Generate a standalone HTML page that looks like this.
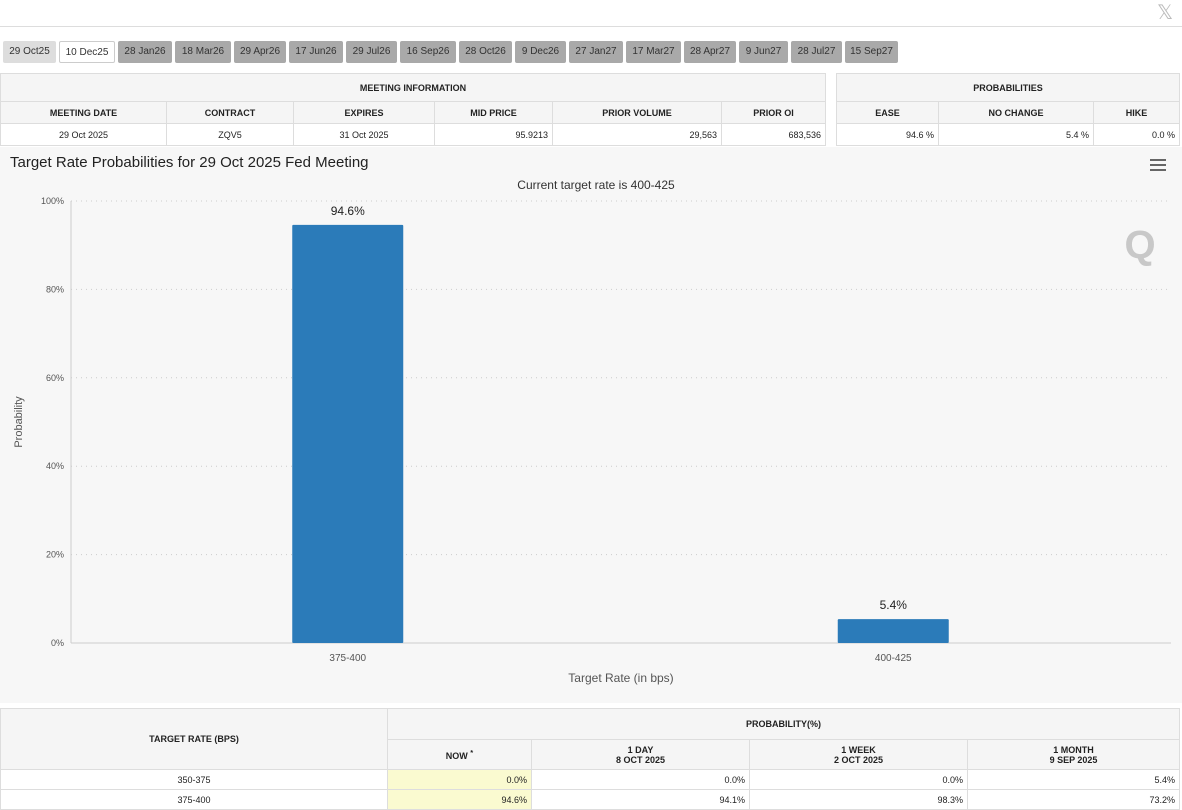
<!DOCTYPE html>
<html><head><meta charset="utf-8"><style>
*{box-sizing:border-box;margin:0;padding:0}
body{width:1182px;height:808px;overflow:hidden;background:#fff;font-family:"Liberation Sans",Arial,sans-serif;position:relative}
.abs{position:absolute}
.tab{position:absolute;top:41px;height:22px;font-size:10px;line-height:22px;text-align:center;background:#a9a9a9;color:#333;border-radius:2px}
table{border-collapse:collapse;position:absolute;font-size:9px;color:#222}
td{border:1px solid #ddd;text-align:center;padding:0 4px}
.h td,td.h{font-weight:bold;background:#f5f5f5}
.r{text-align:right}
.y{background:#fafad0}
</style></head><body>
<div class="abs" style="left:0;top:26px;width:1182px;height:1px;background:#ddd"></div>
<div class="abs" style="left:1157px;top:0;font-size:20px;color:#bbb">𝕏</div>
<div id="tabs"></div>
<table style="left:0;top:73px;width:826px">
<tr class="h" style="height:28px"><td colspan="6">MEETING INFORMATION</td></tr>
<tr class="h" style="height:22px"><td style="width:166px">MEETING DATE</td><td style="width:127px">CONTRACT</td><td style="width:141px">EXPIRES</td><td style="width:118px">MID PRICE</td><td style="width:169px">PRIOR VOLUME</td><td>PRIOR OI</td></tr>
<tr style="height:22px"><td>29 Oct 2025</td><td>ZQV5</td><td>31 Oct 2025</td><td class="r">95.9213</td><td class="r">29,563</td><td class="r">683,536</td></tr>
</table>
<table style="left:836px;top:73px;width:344px">
<tr class="h" style="height:28px"><td colspan="3">PROBABILITIES</td></tr>
<tr class="h" style="height:22px"><td style="width:102px">EASE</td><td style="width:155px">NO CHANGE</td><td>HIKE</td></tr>
<tr style="height:22px"><td class="r">94.6 %</td><td class="r">5.4 %</td><td class="r">0.0 %</td></tr>
</table>
<div class="abs" style="left:0;top:147px;width:1182px;height:556px;background:#f7f7f7"></div>
<svg class="abs" style="left:0;top:0" width="1182" height="808" id="chart">
<text x="10" y="167" font-size="15" fill="#222">Target Rate Probabilities for 29 Oct 2025 Fed Meeting</text>
<text x="596" y="189" font-size="12" fill="#333" text-anchor="middle">Current target rate is 400-425</text>
<g><rect x="1150" y="159" width="16" height="2" fill="#666"/><rect x="1150" y="164" width="16" height="2" fill="#666"/><rect x="1150" y="169" width="16" height="2" fill="#666"/></g>
<text x="1140" y="258" font-size="40" font-weight="bold" fill="#c8c8c8" text-anchor="middle">Q</text>
<text x="22" y="422" font-size="11" fill="#555" transform="rotate(-90 22 422)" text-anchor="middle">Probability</text>
<text x="621" y="682" font-size="12" fill="#555" text-anchor="middle">Target Rate (in bps)</text>
<g id="g"></g>
</svg>
<table style="left:0;top:708px;width:1180px">
<tr style="height:31px"><td class="h" rowspan="2" style="width:387px">TARGET RATE (BPS)</td><td class="h" colspan="4">PROBABILITY(%)</td></tr>
<tr class="h" style="height:30px"><td style="width:144px">NOW <sup>*</sup></td><td style="width:218px">1 DAY<br>8 OCT 2025</td><td style="width:218px">1 WEEK<br>2 OCT 2025</td><td>1 MONTH<br>9 SEP 2025</td></tr>
<tr style="height:20px"><td>350-375</td><td class="r y">0.0%</td><td class="r">0.0%</td><td class="r">0.0%</td><td class="r">5.4%</td></tr>
<tr style="height:20px"><td>375-400</td><td class="r y">94.6%</td><td class="r">94.1%</td><td class="r">98.3%</td><td class="r">73.2%</td></tr>
</table>
<script>
const categories=["375-400","400-425"];
const values=[94.6,5.4];
const yTicks=[0,20,40,60,80,100];
const tabLabels=["29 Oct25","10 Dec25","28 Jan26","18 Mar26","29 Apr26","17 Jun26","29 Jul26","16 Sep26","28 Oct26","9 Dec26","27 Jan27","17 Mar27","28 Apr27","9 Jun27","28 Jul27","15 Sep27"];
const tabX=[3,59,118,175,234,289,346,400,459,515,569,626,684,739,791,845,901];
const tabs=document.getElementById('tabs');
tabLabels.forEach((t,i)=>{const d=document.createElement('div');d.className='tab';d.textContent=t;
d.style.left=tabX[i]+'px';d.style.width=(tabX[i+1]-tabX[i]-3)+'px';
if(i==0)d.style.background='#ddd';if(i==1){d.style.background='#fff';d.style.border='1px solid #ccc';}


tabs.appendChild(d);});
const NS='http://www.w3.org/2000/svg',g=document.getElementById('g');
const x0=71,x1=1171,y0=643,y1=201;
const bx0=75,bx1=1166;
const ys=v=>y0-(v/100)*(y0-y1);
const bw=(bx1-bx0)/categories.length;
function el(tag,a,txt){const e=document.createElementNS(NS,tag);for(const k in a)e.setAttribute(k,a[k]);if(txt!=null)e.textContent=txt;g.appendChild(e);return e;}
yTicks.forEach(t=>{
const l=el('line',{x1:x0,x2:x1,y1:ys(t),y2:ys(t),stroke:'#ccc','stroke-dasharray':t?'1,4':''});


const tx=el('text',{x:64,y:ys(t)+3,'font-size':9,fill:'#555','text-anchor':'end'},t+'%');


});
const ax=el('line',{x1:x0,x2:x0,y1:y1,y2:y0,stroke:'#ccc'});


categories.forEach((c,i)=>{
const cx=bx0+bw*(i+0.5),w=111;
const r=el('rect',{x:cx-w/2,y:ys(values[i]),width:w,height:y0-ys(values[i]),fill:'#2b7bb9',rx:1});


const v=el('text',{x:cx,y:ys(values[i])-10,'font-size':12,fill:'#222','text-anchor':'middle'},values[i].toFixed(1)+'%');


const tl=el('text',{x:cx,y:661,'font-size':10,fill:'#555','text-anchor':'middle'},c);


});
</script>
</body></html>
